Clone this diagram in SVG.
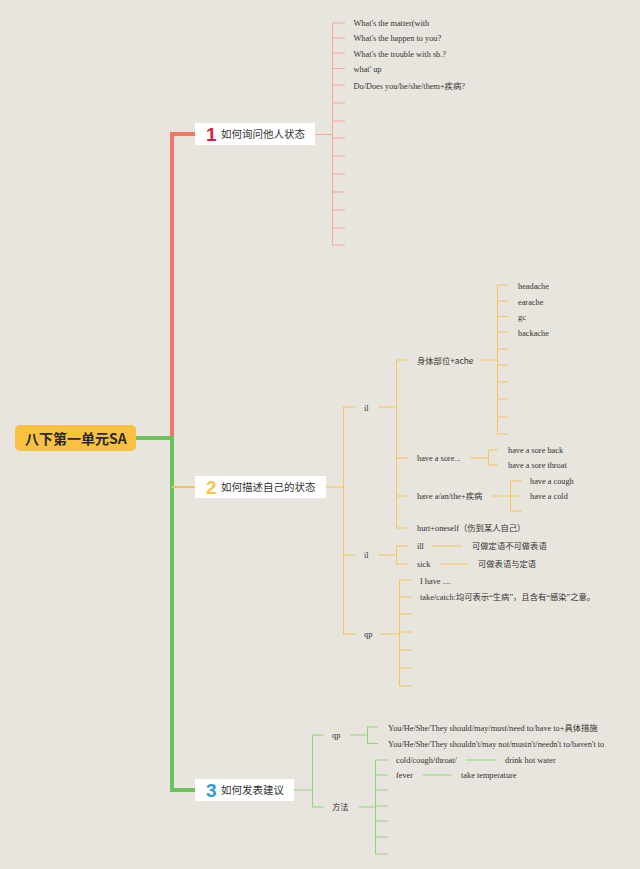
<svg xmlns="http://www.w3.org/2000/svg" width="640" height="869" viewBox="0 0 640 869">
<style>
.bg{fill:#e8e4de}
.node{fill:#ffffff}
.t{font-family:"Liberation Serif","Noto Sans CJK SC",serif;font-size:8.3px;fill:#333}
.ts{font-family:"Noto Sans CJK SC","Liberation Sans",sans-serif;font-size:8.3px;fill:#333}
.nt{font-family:"Noto Sans CJK SC","Liberation Sans",sans-serif;font-size:10.5px;fill:#333}
.num{font-family:"Liberation Sans","Noto Sans CJK SC",sans-serif;font-size:19px;font-weight:bold}
.r{stroke:#f4a79c;fill:none;stroke-width:1}
.y{stroke:#f5c65a;fill:none;stroke-width:1}
.g{stroke:#93d27e;fill:none;stroke-width:1}
</style>
<rect class="bg" x="0" y="0" width="640" height="869"/>
<g id="connectors">
  <path d="M136,438 H172" stroke="#6cc25a" stroke-width="4" fill="none"/>
  <path d="M172,438 V134 H195" stroke="#f07866" stroke-width="4" fill="none"/>
  <path d="M172,436 V790 H195" stroke="#6cc25a" stroke-width="4" fill="none"/>
  <path d="M172,487 H195" stroke="#f5c458" stroke-width="2" fill="none"/>
  <path class="r" d="M315,134.5 H332" stroke-width="1.5"/>
  <path class="r" d="M332.5,23 V245"/>
  <path class="r" d="M332,23 H345 M332,38 H345 M332,53 H345 M332,68.5 H345 M332,85 H345 M332,103 H345 M332,121 H345 M332,138 H345 M332,156 H345 M332,174 H345 M332,192 H345 M332,210 H345 M332,228 H345 M332,245 H345"/>
  <path class="y" d="M326,487 H343" stroke-width="1.5"/>
  <path class="y" d="M343.5,407 V634"/>
  <path class="y" d="M343,407 H355 M343,555 H355 M343,634 H355"/>
  <path class="y" d="M378,407 H396" stroke-width="1.5"/>
  <path class="y" d="M396.5,360 V528"/>
  <path class="y" d="M396,360 H408 M396,458 H408 M396,496 H408 M396,528 H408"/>
  <path class="y" d="M480,360 H497" stroke-width="1.5"/>
  <path class="y" d="M497.5,285 V434"/>
  <path class="y" d="M497,285 H508 M497,301 H508 M497,316.5 H508 M497,332 H508 M497,349 H508 M497,365 H508 M497,382 H508 M497,399 H508 M497,417 H508 M497,434 H508"/>
  <path class="y" d="M470,458 H488" stroke-width="1.5"/>
  <path class="y" d="M488.5,450 V465 M488,450 H498 M488,465 H498"/>
  <path class="y" d="M492,496 H510" stroke-width="1.5"/>
  <path class="y" d="M510.5,481 V511 M510,481 H522 M510,496 H522 M510,511 H522"/>
  <path class="y" d="M378,555 H396" stroke-width="1.5"/>
  <path class="y" d="M396.5,546 V564 M396,546 H408 M396,564 H408"/>
  <path class="y" d="M432,546 H462 M440,564 H468"/>
  <path class="y" d="M381,634 H399" stroke-width="1.5"/>
  <path class="y" d="M399.5,580 V686"/>
  <path class="y" d="M399,580 H412 M399,597 H412 M399,614 H412 M399,632 H412 M399,650 H412 M399,668 H412 M399,686 H412"/>
  <path class="g" d="M294,790 H312" stroke-width="1.5"/>
  <path class="g" d="M312.5,735 V807 M312,735 H324 M312,807 H324"/>
  <path class="g" d="M350,735 H367" stroke-width="1.5"/>
  <path class="g" d="M367.5,727 V743.5 M367,727 H378 M367,743.5 H378"/>
  <path class="g" d="M359,807 H375" stroke-width="1.5"/>
  <path class="g" d="M375.5,760 V854"/>
  <path class="g" d="M375,760 H388 M375,775 H388 M375,790 H388 M375,806 H388 M375,821 H388 M375,837 H388 M375,854 H388"/>
  <path class="g" d="M466,760 H496 M423,775 H452"/>
</g>
<g id="root">
  <rect x="15" y="425" width="121" height="26" rx="5" fill="#f8c240"/>
  <text x="25" y="443.5" font-family="Noto Sans CJK SC, Liberation Sans, sans-serif" font-size="14" font-weight="bold" fill="#2a2a2a">八下第一单元SA</text>
</g>
<g id="n1">
  <rect class="node" x="195" y="123" width="120" height="22"/>
  <text class="num" x="206" y="141" fill="#d81e3c">1</text>
  <text class="nt" x="221" y="138">如何询问他人状态</text>
</g>
<g id="n1-items">
  <text class="t" x="353.5" y="26">What's the matter(with</text>
  <text class="t" x="353.5" y="41">What's the happen to you?</text>
  <text class="t" x="353.5" y="56.5">What's the trouble with sb.?</text>
  <text class="t" x="353.5" y="72">what' up</text>
  <text class="t" x="353.5" y="88.5">Do/Does you/he/she/them+疾病?</text>
</g>
<g id="n2">
  <rect class="node" x="195" y="476" width="131" height="22"/>
  <text class="num" x="206" y="494" fill="#f5c842">2</text>
  <text class="nt" x="221" y="491">如何描述自己的状态</text>
</g>
<g id="n2-items">
  <text class="t" x="364" y="411">il</text>
  <text class="ts" x="417" y="363.5">身体部位+ache</text>
  <text class="t" x="518" y="289">headache</text>
  <text class="t" x="518" y="304.5">earache</text>
  <text class="t" x="518" y="320">gc</text>
  <text class="t" x="518" y="335.5">backache</text>
  <text class="t" x="417" y="461">have a sore...</text>
  <text class="t" x="508" y="453">have a sore back</text>
  <text class="t" x="508" y="468">have a sore throat</text>
  <text class="t" x="417" y="499">have a/an/the+疾病</text>
  <text class="t" x="530" y="484">have a cough</text>
  <text class="t" x="530" y="499">have a cold</text>
  <text class="t" x="417" y="531">hurt+oneself（伤到某人自己）</text>
  <text class="t" x="364" y="558">il</text>
  <text class="t" x="417" y="549">ill</text>
  <text class="ts" x="472" y="549">可做定语不可做表语</text>
  <text class="t" x="417" y="567">sick</text>
  <text class="ts" x="478" y="567">可做表语与定语</text>
  <text class="t" x="364" y="637">qp</text>
  <text class="t" x="420" y="584">I have ....</text>
  <text class="t" x="420" y="600">take/catch:均可表示“生病”，且含有“感染”之意。</text>
</g>
<g id="n3">
  <rect class="node" x="195" y="779" width="99" height="22"/>
  <text class="num" x="206" y="797" fill="#2a9ad8">3</text>
  <text class="nt" x="221" y="794">如何发表建议</text>
</g>
<g id="n3-items">
  <text class="t" x="332" y="738">qp</text>
  <text class="ts" x="332" y="810">方法</text>
  <text class="t" x="388" y="731">You/He/She/They should/may/must/need to/have to+具体措施</text>
  <text class="t" x="388" y="747">You/He/She/They shouldn't/may not/mustn't/needn't to/haven't to</text>
  <text class="t" x="396" y="763">cold/cough/throat/</text>
  <text class="t" x="505" y="763">drink hot water</text>
  <text class="t" x="396" y="778">fever</text>
  <text class="t" x="461" y="778">take temperature</text>
</g>
</svg>
